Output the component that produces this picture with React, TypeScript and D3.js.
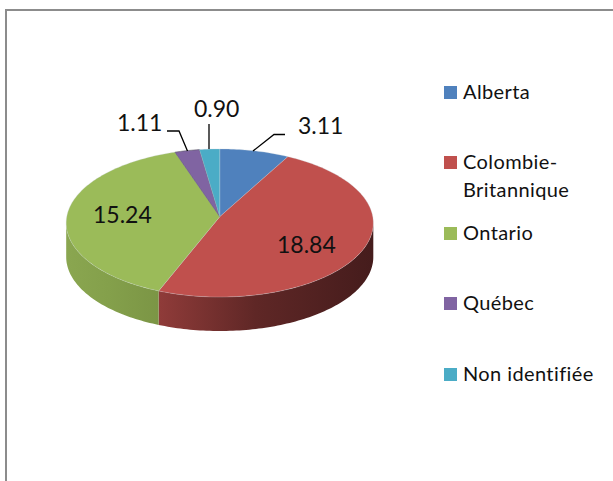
import React from "react";
import * as D3 from "d3";

// Data
const categories = ["Alberta", "Colombie-Britannique", "Ontario", "Québec", "Non identifiée"];
const values = [3.11, 18.84, 15.24, 1.11, 0.9];
const valueLabels = ["3.11", "18.84", "15.24", "1.11", "0.90"];
const legendLines = [["Alberta"], ["Colombie-", "Britannique"], ["Ontario"], ["Québec"], ["Non identifiée"]];

// Style
const topColors = ["#4f81bd", "#c0504d", "#9bbb59", "#8064a2", "#4bacc6"];
const wallStart = ["#3d6594", "#8f3b39", "#8aa650", "#5f4a79", "#38819a"];
const wallMid = ["#3d6594", "#5f2726", "#84a04b", "#5f4a79", "#38819a"];
const wallEnd = ["#3d6594", "#451c1c", "#7b9545", "#5f4a79", "#38819a"];
const FONT = "Lato, Carlito, Calibri, sans-serif";
const TEXT = "#111";

// Layout: projected tilted circle, the apex is the projected centre of the pie
const W = 613, H = 481;
const CX = 219.75, APEX_Y = 216.7, AX = 153, AY = 73.5, PERSP = 0.085, DEPTH = 34;
const labelPos: [number, number][] = [[298, 134], [277, 253], [93, 223], [117, 131], [194, 117]];
const leaders: ([number, number][] | null)[] = [
  [[253, 151], [274, 134.5], [285, 134.5]],
  null,
  null,
  [[167, 131], [179, 131], [187.5, 151]],
  [[209, 124], [209, 149]],
];
const legendTop = [86, 156, 227, 297, 368];
const legendX = 444, SWATCH = 13, legendTextX = 463, legendLineH = 28;

const pt = (t: number, dy = 0): [number, number] => {
  const w = 1 + PERSP * Math.cos(t);
  return [CX + (AX * Math.sin(t)) / w, APEX_Y - (AY * Math.cos(t)) / w + dy];
};
const arcPts = (a: number, b: number, dy = 0) => {
  const n = Math.max(2, Math.ceil(Math.abs(b - a) / 0.02));
  return D3.range(n + 1).map((i) => pt(a + ((b - a) * i) / n, dy));
};
const line = D3.line();

export default function App() {
  const arcs = D3.pie<number>().sort(null)(values);
  const wallFrom = Math.acos(-PERSP);
  const wallTo = 2 * Math.PI - wallFrom;
  return (
    <svg width={W} height={H} style={{ position: "absolute", left: 0, top: 0, background: "#fff" }} fontFamily={FONT}>
      <defs>
        {arcs.map((_, i) => (
          <linearGradient key={i} id={`wall${i}`} gradientUnits="userSpaceOnUse" x1={i === 2 ? 66 : 160} x2={i === 2 ? 160 : 373} y1={0} y2={0}>
            <stop offset="0" stopColor={wallStart[i]} />
            <stop offset="0.45" stopColor={wallMid[i]} />
            <stop offset="1" stopColor={wallEnd[i]} />
          </linearGradient>
        ))}
      </defs>
      <path d={`M${W},10H6V${H}`} fill="none" stroke="#8c8c8c" strokeWidth={2} />

      {arcs.map((a, i) => {
        const s = Math.max(a.startAngle, wallFrom);
        const e = Math.min(a.endAngle, wallTo);
        if (e <= s) return null;
        return <path key={i} d={line([...arcPts(s, e), ...arcPts(e, s, DEPTH)])! + "Z"} fill={`url(#wall${i})`} />;
      })}
      {arcs.map((a, i) => {
        const d = line([[CX, APEX_Y], ...arcPts(a.startAngle, a.endAngle)])! + "Z";
        return <path key={i} d={d} fill={topColors[i]} stroke={i === 3 ? "#5a5a62" : "#c9d4dc"} strokeOpacity={i === 3 ? 0.7 : 0.35} strokeWidth={0.8} strokeLinejoin="round" />;
      })}

      {leaders.map((l, i) => l && <path key={i} d={line(l)!} fill="none" stroke="#000" strokeWidth={1.3} />)}
      {valueLabels.map((t, i) => (
        <text key={i} x={labelPos[i][0]} y={labelPos[i][1]} fontSize={23} fill={TEXT}>{t}</text>
      ))}

      {categories.map((c, i) => (
        <g key={c}>
          <rect x={legendX} y={legendTop[i]} width={SWATCH} height={SWATCH} fill={topColors[i]} />
          {legendLines[i].map((t, j) => (
            <text key={j} x={legendTextX} y={legendTop[i] + SWATCH + j * legendLineH} fontSize={20} letterSpacing={0.4} style={{ fontVariantLigatures: "none" }} fill={TEXT}>{t}</text>
          ))}
        </g>
      ))}
    </svg>
  );
}
